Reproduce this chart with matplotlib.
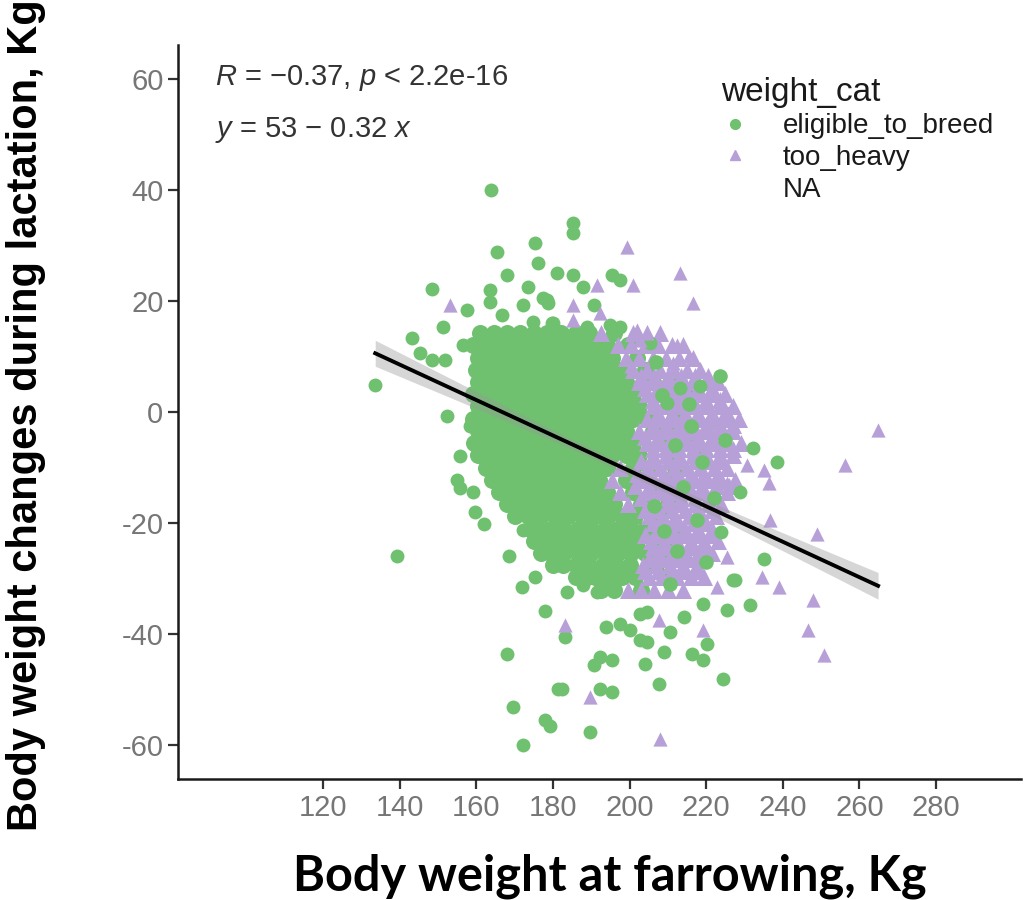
import numpy as np
import matplotlib
matplotlib.use("Agg")
import matplotlib.pyplot as plt
from matplotlib.lines import Line2D
from matplotlib import font_manager

# ---- data (x = weight at farrowing, y = change) ----
green_outliers = [
    (163.9, 39.9), (185.3, 34.0), (185.3, 32.3), (175.4, 30.4), (165.4, 28.9),
    (176.2, 26.8), (181.0, 25.0), (168.0, 24.7), (173.6, 22.6), (148.4, 22.1),
    (163.6, 22.0), (163.6, 19.9), (177.5, 20.5), (178.8, 19.6), (172.3, 19.3),
    (157.5, 18.4), (166.6, 17.5), (174.8, 16.3), (179.7, 16.0), (151.4, 15.4),
    (143.2, 13.3), (156.6, 12.1), (161.0, 14.2), (164.5, 13.6), (145.3, 10.6),
    (148.4, 9.4), (151.9, 9.4), (133.6, 4.9), (152.3, -0.7), (158.4, -2.6),
    (155.8, -8.0), (154.9, -12.3), (155.8, -13.7), (159.2, -14.4), (167.1, -15.0),
    (159.7, -18.0), (161.9, -20.1), (172.3, -21.3), (139.2, -25.9), (168.4, -26.0),
    (175.4, -29.8), (171.8, -31.6), (178.0, -35.8), (167.9, -43.5), (181.4, -49.8),
    (169.6, -53.1), (178.0, -55.5), (179.2, -56.6), (172.3, -60.0), (183.2, -40.5),
    (193.8, -38.7), (197.5, -38.1), (200.2, -39.3), (202.8, -41.1), (204.5, -41.4),
    (192.3, -44.1), (195.4, -44.7), (190.6, -45.6), (204.1, -45.3), (208.9, -43.2),
    (216.3, -43.5), (219.3, -44.7), (220.2, -41.7), (224.5, -48.0), (207.6, -48.9),
    (182.3, -49.8), (192.3, -49.8), (195.4, -50.4), (189.7, -57.6), (227.0, -30.3),
    (225.4, -35.7), (219.3, -34.5), (210.6, -39.6), (214.1, -36.9), (204.5, -36.0),
    (224.0, -21.6), (185.3, 24.7), (187.9, 22.6), (195.4, 24.7), (197.5, 23.8),
    (178.4, 20.2), (190.6, 19.3), (180.1, 16.0), (188.8, 15.4), (194.9, 15.7),
    (197.5, 15.4), (205.4, 12.4), (218.4, 4.6), (213.2, 4.3), (209.7, 1.6),
    (232.3, -6.5), (238.4, -9.0), (228.9, -14.4), (235.0, -26.4), (227.6, -30.3),
    (231.5, -34.8), (183.6, -32.4), (187.9, -31.2), (191.4, -32.4), (202.8, -36.3),
]

heavy_outliers = [
    (153.2, 19.3), (199.3, 29.8), (213.2, 25.0), (216.6, 19.6), (191.4, 22.9),
    (201.0, 22.9), (185.3, 19.3), (192.3, 17.8), (185.3, 16.6), (201.9, 14.8),
    (204.5, 14.2), (202.8, 13.0), (212.3, 12.1), (215.4, 10.0), (211.4, 8.8),
    (200.5, 8.2), (220.2, 1.6), (225.8, -0.2), (221.8, -2.0), (224.0, -8.6),
    (217.5, -4.4), (264.9, -3.2), (256.3, -9.5), (230.6, -9.5), (235.0, -10.4),
    (236.3, -12.8), (225.4, -12.8), (236.7, -19.5), (248.9, -21.9), (234.5, -29.7),
    (238.9, -31.5), (248.0, -33.9), (222.8, -31.5), (225.4, -26.1), (246.6, -39.3),
    (250.8, -43.8), (183.2, -38.4), (189.7, -51.3), (208.0, -58.8), (219.3, -39.3),
    (207.6, -37.5),
]

# dense middle of the cloud, one row of x values per y level
green_rows = [
    (14.2, [161, 164.5, 168, 171.5, 175, 178.5, 182, 186, 189.5, 196]),
    (12.0, [159, 162.5, 166, 169.5, 173, 176.5, 180, 183.5, 187, 190.5, 194, 199.5]),
    (9.8, [160.5, 164, 167.5, 171, 174.5, 178, 181.5, 185, 188.5, 192, 195.5, 202]),
    (7.6, [160, 162.5, 166, 169.5, 173, 176.5, 180, 183.5, 187, 190.5, 194, 197.5, 204]),
    (5.4, [160.5, 164, 167.5, 171, 174.5, 178, 181.5, 185, 188.5, 192, 195.5, 199, 206, 213]),
    (3.2, [159, 162.5, 166, 169.5, 173, 176.5, 180, 183.5, 187, 190.5, 194, 197.5, 201, 208, 215]),
    (1.0, [160.5, 164, 167.5, 171, 174.5, 178, 181.5, 185, 188.5, 192, 195.5, 199, 202.5, 210]),
    (-1.2, [159, 162.5, 166, 169.5, 173, 176.5, 180, 183.5, 187, 190.5, 194, 197.5, 201, 204.5, 211.5]),
    (-3.4, [160.5, 164, 167.5, 171, 174.5, 178, 181.5, 185, 188.5, 192, 195.5, 199, 206, 213]),
    (-5.6, [159.5, 162.5, 166, 169.5, 173, 176.5, 180, 183.5, 187, 190.5, 194, 197.5, 201, 208, 215.5]),
    (-7.8, [160.5, 164, 167.5, 171, 174.5, 178, 181.5, 185, 188.5, 192, 195.5, 199, 202.5, 210, 217]),
    (-10.0, [162.5, 166, 169.5, 173, 176.5, 180, 183.5, 187, 190.5, 194, 201, 205, 212]),
    (-12.2, [164, 167.5, 171, 174.5, 178, 181.5, 185, 188.5, 192, 199, 203, 210]),
    (-14.4, [166, 169.5, 173, 176.5, 180, 183.5, 187, 190.5, 194, 201, 208]),
    (-16.6, [168, 171.5, 175, 178.5, 182, 185.5, 189, 192.5, 196, 203, 210]),
    (-18.8, [170, 173.5, 177, 180.5, 184, 187.5, 191, 194.5, 198, 201.5, 208]),
    (-21.0, [174, 176, 179.5, 183, 186.5, 190, 193.5, 197, 200.5, 204, 211]),
    (-23.2, [175, 177.5, 181, 184.5, 188, 191.5, 195, 198.5, 202, 209]),
    (-25.4, [177, 179.5, 183, 186.5, 190, 193.5, 197, 200.5, 204, 211]),
    (-27.6, [180, 182.5, 186, 189.5, 193, 196.5, 200, 207]),
    (-29.8, [186, 189, 191, 194.5, 198, 201.5, 209]),
    (-32.0, [192.5, 196, 203]),
]

heavy_rows = [
    (14.2, [192.5, 201, 204.5, 208]),
    (12.0, [197, 200.5, 204, 207.5, 211, 214]),
    (9.8, [199, 202.5, 206, 209.5, 213, 216.5]),
    (7.6, [201, 204.5, 208, 211.5, 215, 218.5]),
    (6.5, [203, 206.5, 210, 213.5, 217, 220.5]),
    (5.4, [202.5, 206, 209.5, 213, 216.5, 220, 223]),
    (4.3, [204, 207.5, 211, 214.5, 218, 221.5]),
    (3.2, [204.5, 208, 211.5, 215, 218.5, 222, 225]),
    (2.1, [206, 209.5, 213, 216.5, 220, 223.5]),
    (1.0, [206, 209.5, 213, 216.5, 220, 223.5, 227]),
    (-0.1, [207.5, 211, 214.5, 218, 221.5, 225]),
    (-1.2, [204.5, 208, 211.5, 215, 218.5, 222, 225.5, 228.5]),
    (-2.3, [206, 209.5, 213, 216.5, 220, 223.5, 227]),
    (-3.4, [202.5, 206, 209.5, 213, 216.5, 220, 223.5, 227]),
    (-4.5, [204, 207.5, 211, 214.5, 218, 221.5, 225]),
    (-5.6, [204.5, 208, 211.5, 215, 218.5, 222, 225.5, 229]),
    (-6.7, [206, 209.5, 213, 216.5, 220, 223.5, 227]),
    (-7.8, [206, 209.5, 213, 216.5, 220, 223.5, 227]),
    (-8.9, [203, 206.5, 210, 213.5, 217, 220.5, 224]),
    (-10.0, [197.5, 204.5, 208, 211.5, 215, 218.5, 222, 225.5]),
    (-11.1, [202, 205.5, 209, 212.5, 216, 219.5, 223]),
    (-12.2, [195.5, 203, 206.5, 210, 213.5, 217, 220.5, 224, 227.5]),
    (-13.3, [201.5, 205, 208.5, 212, 215.5, 219, 222.5, 226]),
    (-14.4, [197.5, 204.5, 208, 211.5, 215, 218.5, 222, 225.5]),
    (-15.5, [203, 206.5, 210, 213.5, 217, 220.5]),
    (-16.6, [199.5, 206.5, 210, 213.5, 217, 220.5, 224]),
    (-17.7, [204, 207.5, 211, 214.5, 218, 221.5]),
    (-18.8, [205, 208.5, 212, 215.5, 219, 222.5]),
    (-19.9, [206, 209.5, 213, 216.5, 220]),
    (-21.0, [207.5, 211, 214.5, 218, 221.5]),
    (-22.1, [204, 207.5, 211, 214.5, 218, 221.5]),
    (-23.2, [205.5, 209, 212.5, 216, 219.5, 223]),
    (-24.3, [206, 209.5, 213, 216.5, 220]),
    (-25.4, [207.5, 211, 214.5, 218, 221.5]),
    (-26.5, [205, 208.5, 212, 215.5, 219]),
    (-27.6, [203.5, 207, 210.5, 214, 217.5]),
    (-28.7, [204, 207.5, 211, 214.5, 218]),
    (-29.8, [205, 208.5, 212.5, 216, 219.5]),
    (-32.0, [199.5, 203, 206.5, 210, 214]),
]

# green points lying on top of the too_heavy patch
green_over = [
    (216.0, -2.5), (219.0, -9.0), (214.0, -13.5), (217.5, -19.5), (212.5, -25.0),
    (222.0, -15.5), (210.5, -31.0), (223.5, 6.5), (207.0, 9.0), (220.0, -27.0),
    (208.5, 3.0), (212.0, -6.0), (206.5, -17.0), (209.0, -21.5), (215.5, 1.5),
    (225.0, -5.0), (181.0, 7.6),
]

# fitted line and band as printed on the chart
intercept, slope = 53.2, -0.319
ci_half_centre, ci_half_end = 0.8, 2.4

x_ticks = [120, 140, 160, 180, 200, 220, 240, 260, 280]
y_ticks = [-60, -40, -20, 0, 20, 40, 60]
legend_labels = ["eligible_to_breed", "too_heavy", "NA"]

green = "#6fc06f"
purple = "#b7a0d8"


def pairs_to_xy(pairs):
    return np.array([p[0] for p in pairs], float), np.array([p[1] for p in pairs], float)


def rows_to_xy(rows):
    xs, ys = [], []
    for yv, xr in rows:
        xs += list(xr)
        ys += [yv] * len(xr)
    return np.array(xs, float), np.array(ys, float)


gx, gy = pairs_to_xy(green_outliers)
hx, hy = pairs_to_xy(heavy_outliers)
ox, oy = pairs_to_xy(green_over)
gcx, gcy = rows_to_xy(green_rows)
hcx, hcy = rows_to_xy(heavy_rows)


def has_font(name):
    try:
        font_manager.findfont(name, fallback_to_default=False)
        return True
    except ValueError:
        return False


plt.rcParams['font.family'] = ['Liberation Sans', 'DejaVu Sans']
plt.rcParams['axes.unicode_minus'] = False
plt.rcParams['mathtext.fontset'] = 'custom'
plt.rcParams['mathtext.rm'] = 'Liberation Sans'
plt.rcParams['mathtext.it'] = 'Liberation Sans:italic'

fig = plt.figure(figsize=(10.3, 9.0), dpi=100)
ax = fig.add_axes([0.1728, 0.1344, 0.8184, 0.8156])

# dense core (overlapping points merge into a solid patch)
ax.scatter(gcx, gcy, s=150, marker='o', color=green, linewidths=0, zorder=2)
ax.scatter(hcx, hcy, s=150, marker='^', color=purple, linewidths=0, zorder=2)
# scattered points
ax.scatter(gx, gy, s=100, marker='o', color=green, linewidths=0, zorder=2)
ax.scatter(hx, hy, s=105, marker='^', color=purple, linewidths=0, zorder=2)
ax.scatter(ox, oy, s=110, marker='o', color=green, linewidths=0, zorder=2)

# regression line + confidence band
all_x = np.concatenate([gx, hx, ox, gcx, hcx])
xl = np.linspace(all_x.min(), all_x.max(), 100)
yl = intercept + slope * xl
xbar = all_x.mean()
span = max(xbar - xl[0], xl[-1] - xbar)
half = np.sqrt(ci_half_centre ** 2 + (ci_half_end ** 2 - ci_half_centre ** 2) * ((xl - xbar) / span) ** 2)
ax.fill_between(xl, yl - half, yl + half, color='#999999', alpha=0.4, linewidth=0, zorder=3)
ax.plot(xl, yl, color='black', lw=2.8, zorder=4)

ax.set_xlim(82.1, 302.2)
ax.set_ylim(-66.1, 66.1)
ax.set_xticks(x_ticks)
ax.set_yticks(y_ticks)
ax.tick_params(axis='both', labelsize=21, labelcolor='#767676', color='#333333',
               length=7, width=1.6, direction='out')
for side in ['top', 'right']:
    ax.spines[side].set_visible(False)
for side in ['left', 'bottom']:
    ax.spines[side].set_linewidth(1.8)
    ax.spines[side].set_color('#1a1a1a')

# stats text
ax.text(0.044, 0.955, "$R$ = \u22120.37, $p$ < 2.2e-16", transform=ax.transAxes,
        fontsize=21, color='#333333', va='center', ha='left')
ax.text(0.044, 0.884, "$y$ = 53 \u2212 0.32 $x$", transform=ax.transAxes,
        fontsize=21, color='#333333', va='center', ha='left')

# legend
handles = [
    Line2D([], [], marker='o', ls='', color=green, markersize=7),
    Line2D([], [], marker='^', ls='', color=purple, markersize=7),
    Line2D([], [], marker='', ls=''),
]
leg = fig.legend(handles, legend_labels, title="weight_cat", loc='upper left',
                 bbox_to_anchor=(0.687, 0.93), frameon=False, fontsize=20,
                 title_fontsize=24, handlelength=1.0, handletextpad=1.2,
                 labelspacing=0.2, borderpad=0, alignment='left')
leg.get_title().set_color('#1a1a1a')
for t in leg.get_texts():
    t.set_color('#1a1a1a')

# axis titles
xfont = 'Lato' if has_font('Lato') else 'Liberation Sans'
yfont = 'Liberation Sans Narrow' if has_font('Liberation Sans Narrow') else 'Liberation Sans'
fig.text(610 / 1030, 1 - 876 / 900, "Body weight at farrowing, Kg", family=xfont,
         fontweight='bold', fontsize=35, ha='center', va='center', color='black')
fig.text(26 / 1030, 1 - 415 / 900, "Body weight changes during lactation, Kg", family=yfont,
         fontweight='bold', fontsize=30, rotation=90, ha='center', va='center', color='black')

fig.savefig("out.png", dpi=100)
